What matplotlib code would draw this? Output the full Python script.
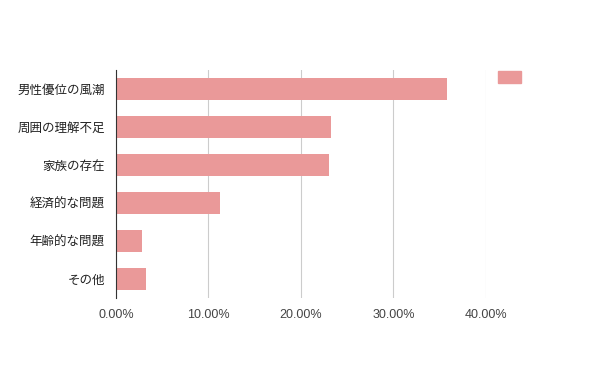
import matplotlib.pyplot as plt
from matplotlib.patches import Patch
from matplotlib.ticker import FuncFormatter

plt.rcParams['font.family'] = ['Noto Sans CJK JP', 'DejaVu Sans']

categories = ['男性優位の風潮', '周囲の理解不足', '家族の存在', '経済的な問題', '年齢的な問題', 'その他']
values = [35.8, 23.2, 23.0, 11.2, 2.8, 3.2]
x_ticks = [0, 10, 20, 30, 40]
bar_color = '#ea9999'

fig = plt.figure(figsize=(6, 3.71), dpi=100)
ax = fig.add_axes([0.1933, 0.197, 0.6167, 0.614])

pos = list(range(len(categories)))
ax.barh(pos, values, height=0.6, color=bar_color, zorder=2)
ax.set_yticks(pos)
ax.set_yticklabels(categories)
ax.set_ylim(len(categories) - 0.5, -0.5)

ax.set_xlim(0, 40)
ax.set_xticks(x_ticks)
ax.xaxis.set_major_formatter(FuncFormatter(lambda v, p: f'{v:.2f}%'))
ax.grid(axis='x', color='#cccccc', linewidth=0.8, zorder=0)
ax.set_axisbelow(True)

for s in ['top', 'right', 'bottom']:
    ax.spines[s].set_visible(False)
ax.spines['left'].set_color('#333333')
ax.spines['left'].set_zorder(3)

ax.tick_params(axis='both', length=0, labelsize=9, colors='#444444')
ax.tick_params(axis='x', pad=8)
ax.tick_params(axis='y', pad=8)
for t in ax.get_xticklabels():
    t.set_fontfamily(['Liberation Sans', 'DejaVu Sans'])
for t in ax.get_yticklabels():
    t.set_color('#222222')

fig.legend(handles=[Patch(color=bar_color)], labels=[''], frameon=False,
           loc='upper left', bbox_to_anchor=(0.818, 0.828),
           handlelength=1.7, handleheight=0.9, borderpad=0, handletextpad=0)

fig.savefig('out.png', dpi=100)
